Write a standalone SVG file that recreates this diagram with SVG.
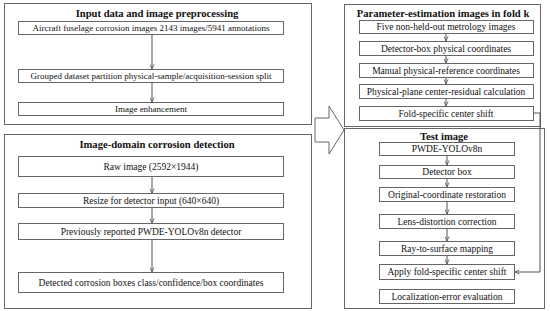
<svg xmlns="http://www.w3.org/2000/svg" width="550" height="311" viewBox="0 0 550 311" font-family="Liberation Serif, Times New Roman, serif">
<defs>
<marker id="ah" viewBox="0 0 6 6" refX="5.5" refY="3" markerWidth="5" markerHeight="5" orient="auto" markerUnits="userSpaceOnUse">
<path d="M0,0.5 L5.5,3 L0,5.5" fill="none" stroke="#555" stroke-width="1"/>
</marker>
<style>
.panel{fill:#fff;stroke:#666;stroke-width:1}
.box{fill:#fff;stroke:#666;stroke-width:1}
text{font-family:'Liberation Serif','Times New Roman',Times,serif}
.t{font-size:9.5px;fill:#111;text-anchor:middle}
.s{font-size:9px}
.h{font-size:10.6px;font-weight:bold;fill:#111;text-anchor:middle}
.c{fill:none;stroke:#555;stroke-width:1;marker-end:url(#ah)}
</style>
</defs>
<rect width="550" height="311" fill="#fff"/>
<g id="panel-input">
<rect class="panel" x="4.5" y="3.5" width="307" height="121"/>
<text class="h" x="157" y="17">Input data and image preprocessing</text>
</g>
<g id="n-aircraft"><rect class="box" x="18.5" y="21.5" width="265" height="13"/><text class="t s" x="151" y="31">Aircraft fuselage corrosion images 2143 images/5941 annotations</text></g>
<g id="n-grouped"><rect class="box" x="18.5" y="69.5" width="265" height="13"/><text class="t s" x="151" y="79">Grouped dataset partition physical-sample/acquisition-session split</text></g>
<g id="n-enh"><rect class="box" x="18.5" y="102.5" width="265" height="13"/><text class="t s" x="151" y="112">Image enhancement</text></g>

<g id="panel-detect">
<rect class="panel" x="4.5" y="134.5" width="307" height="174"/>
<text class="h" x="157" y="148">Image-domain corrosion detection</text>
</g>
<g id="n-raw"><rect class="box" x="18.5" y="156.5" width="265" height="20"/><text class="t" x="151" y="170">Raw image (2592×1944)</text></g>
<g id="n-resize"><rect class="box" x="18.5" y="193.5" width="265" height="14"/><text class="t" x="151" y="204">Resize for detector input (640×640)</text></g>
<g id="n-prev"><rect class="box" x="18.5" y="223.5" width="265" height="16"/><text class="t" x="151" y="235">Previously reported PWDE-YOLOv8n detector</text></g>
<g id="n-det"><rect class="box" x="18.5" y="272.5" width="265" height="20"/><text class="t" x="151" y="286">Detected corrosion boxes class/confidence/box coordinates</text></g>

<g id="big-arrow">
<polygon points="315,118 329,118 329,106 344,130 329,154 329,142 315,142" fill="#fff" stroke="#666" stroke-width="1"/>
</g>

<g id="panel-test">
<rect class="panel" x="344.5" y="128.5" width="200" height="180"/>
<text class="h" x="444" y="140">Test image</text>
</g>
<g id="panel-param">
<rect class="panel" x="344.5" y="4.5" width="196" height="122"/>
<text class="h" x="443" y="17">Parameter-estimation images in fold k</text>
</g>
<g id="n-five"><rect class="box" x="359.5" y="20.5" width="174" height="13"/><text class="t" x="446" y="30">Five non-held-out metrology images</text></g>
<g id="n-dbox"><rect class="box" x="359.5" y="41.5" width="174" height="14"/><text class="t" x="446" y="52">Detector-box physical coordinates</text></g>
<g id="n-manual"><rect class="box" x="359.5" y="63.5" width="174" height="14"/><text class="t" x="446" y="74">Manual physical-reference coordinates</text></g>
<g id="n-plane"><rect class="box" x="359.5" y="84.5" width="174" height="14"/><text class="t" x="446" y="95">Physical-plane center-residual calculation</text></g>
<g id="n-fold"><rect class="box" x="359.5" y="106.5" width="174" height="14"/><text class="t" x="446" y="117">Fold-specific center shift</text></g>

<g id="n-pwde"><rect class="box" x="379.5" y="142.5" width="135" height="13"/><text class="t" x="447" y="152">PWDE-YOLOv8n</text></g>
<g id="n-detbox"><rect class="box" x="379.5" y="165.5" width="135" height="13"/><text class="t" x="447" y="175">Detector box</text></g>
<g id="n-orig"><rect class="box" x="379.5" y="187.5" width="135" height="14"/><text class="t" x="447" y="198">Original-coordinate restoration</text></g>
<g id="n-lens"><rect class="box" x="379.5" y="214.5" width="135" height="14"/><text class="t" x="447" y="225">Lens-distortion correction</text></g>
<g id="n-ray"><rect class="box" x="379.5" y="241.5" width="135" height="14"/><text class="t" x="447" y="252">Ray-to-surface mapping</text></g>
<g id="n-apply"><rect class="box" x="379.5" y="264.5" width="135" height="15"/><text class="t" x="447" y="275">Apply fold-specific center shift</text></g>
<g id="n-loc"><rect class="box" x="379.5" y="289.5" width="135" height="14"/><text class="t" x="447" y="300">Localization-error evaluation</text></g>

<g id="connectors">
<path class="c" d="M152,35 V69"/>
<path class="c" d="M152,83 V102"/>
<path class="c" d="M152,177 V193"/>
<path class="c" d="M152,208 V223"/>
<path class="c" d="M152,240 V272"/>
<path class="c" d="M446,34 V41"/>
<path class="c" d="M446,56 V63"/>
<path class="c" d="M446,78 V84"/>
<path class="c" d="M446,99 V106"/>
<path class="c" d="M447,156 V165"/>
<path class="c" d="M447,179 V187"/>
<path class="c" d="M447,202 V214"/>
<path class="c" d="M447,229 V241"/>
<path class="c" d="M447,256 V264"/>
<path class="c" d="M534,113 H540 V272 H515"/>
</g>
</svg>
